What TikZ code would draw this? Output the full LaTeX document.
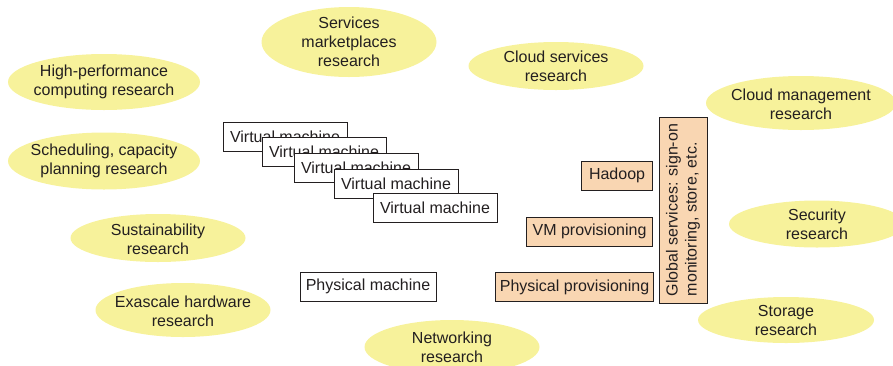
\documentclass[tikz,border=0pt]{standalone}
\usepackage{fontspec}
\setmainfont{Liberation Sans}
\definecolor{ellfill}{HTML}{F7F29B}
\definecolor{boxfill}{HTML}{F9D6B2}
\definecolor{ink}{HTML}{231F20}
\tikzset{
  ellbg/.style={fill=ellfill},
  restext/.style={inner sep=0pt, align=center, text=ink,
    font=\fontsize{16}{19}\selectfont},
  vmbox/.style={draw=ink, line width=0.9pt, fill=white, minimum width=124pt,
    minimum height=29pt, inner sep=0pt, text=ink, font=\fontsize{16}{19}\selectfont},
  svcbox/.style={draw=ink, line width=0.9pt, fill=boxfill, minimum height=29pt,
    inner sep=2pt, text=ink, font=\fontsize{16}{19}\selectfont},
}
\begin{document}
\begin{tikzpicture}[x=1pt,y=-1pt]
\useasboundingbox (0,0) rectangle (893,365);
\begin{scope}
\clip (0,0) rectangle (893,365);
\fill[ellbg] (104,82) ellipse (96 and 28);
\node[restext] (hpc) at (104,82) {High-performance\\computing research};
\fill[ellbg] (104,161) ellipse (96 and 28.5);
\node[restext] (sched) at (104,161) {Scheduling, capacity\\planning research};
\fill[ellbg] (349,42) ellipse (87.5 and 35);
\node[restext] (smk) at (349,42) {Services\\marketplaces\\research};
\fill[ellbg] (556,66) ellipse (87.5 and 24);
\node[restext] (cs) at (556,66) {Cloud services\\research};
\fill[ellbg] (801,103) ellipse (95 and 27);
\node[restext] (cm) at (801,104) {Cloud management\\research};
\fill[ellbg] (817,224) ellipse (88 and 23.5);
\node[restext] (sec) at (817,224) {Security\\research};
\fill[ellbg] (786,320) ellipse (88 and 23);
\node[restext] (sto) at (786,320) {Storage\\research};
\fill[ellbg] (158,238) ellipse (87.5 and 24);
\node[restext] (sus) at (158,239) {Sustainability\\research};
\fill[ellbg] (183,310) ellipse (87.5 and 27);
\node[restext] (exa) at (183,311) {Exascale hardware\\research};
\fill[ellbg] (452,347) ellipse (87.5 and 27);
\node[restext] (net) at (452,347) {Networking\\research};
\end{scope}
\node[vmbox] (vm1) at (285,136.5) {Virtual machine};
\node[vmbox] (vm2) at (324,152) {Virtual machine};
\node[vmbox] (vm3) at (356,167.5) {Virtual machine};
\node[vmbox] (vm4) at (396,183.5) {Virtual machine};
\node[vmbox] (vm5) at (435,208) {Virtual machine};
\node[vmbox, minimum width=136pt] (pm) at (368,286.5) {Physical machine};
\node[svcbox, anchor=east, minimum width=71pt] (had) at (653,175.5) {Hadoop};
\node[svcbox, anchor=east, minimum width=126pt] (vmp) at (653,231.5) {VM provisioning};
\node[svcbox, anchor=east, minimum width=158pt] (pp) at (654,287) {Physical provisioning};
\node[draw=ink, line width=0.9pt, fill=boxfill, rotate=90, minimum width=186pt,
  minimum height=48pt, inner sep=0pt, align=left, text=ink,
  font=\fontsize{16}{19}\selectfont] (glob) at (683,210) {Global services: sign-on\\monitoring, store, etc.};
\end{tikzpicture}
\end{document}
